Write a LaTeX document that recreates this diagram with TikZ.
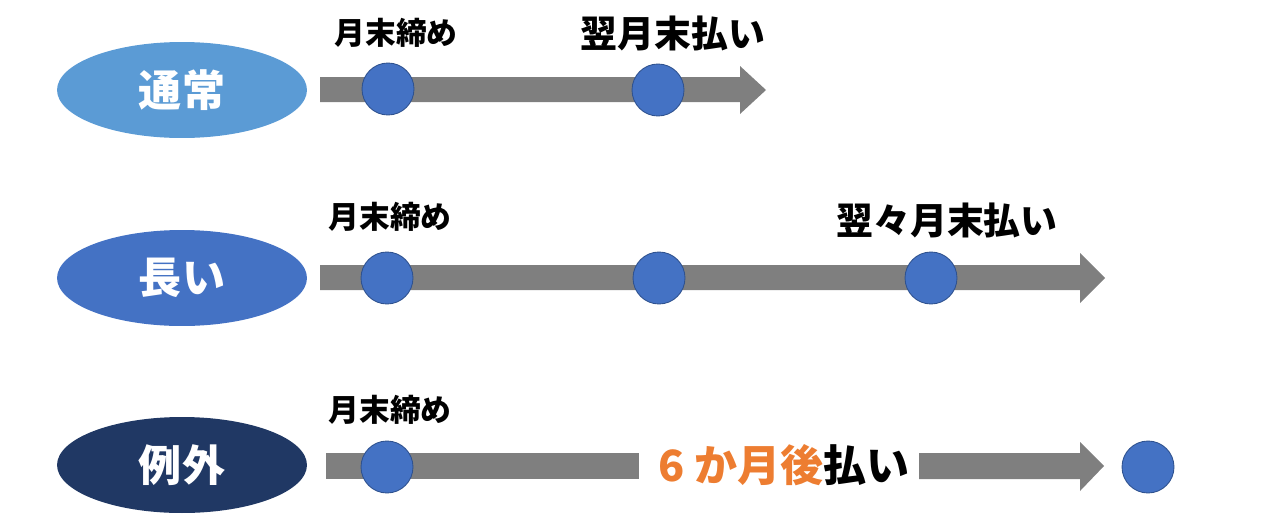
\documentclass[tikz,border=0pt]{standalone}
\usepackage{fontspec}
\setmainfont{Noto Sans CJK JP}
\usetikzlibrary{shapes.geometric}
\definecolor{kindA}{HTML}{5B9BD5}
\definecolor{kindB}{HTML}{4472C4}
\definecolor{kindC}{HTML}{203864}
\definecolor{dotline}{HTML}{2F528F}
\definecolor{barcol}{HTML}{7F7F7F}
\definecolor{accent}{HTML}{ED7D31}

\begin{document}
\begin{tikzpicture}[x=0.02cm,y=-0.02cm,
    kind/.style={ellipse, minimum width=5cm, minimum height=1.92cm, inner sep=0pt,
      text=white, font=\fontsize{24.5}{24.5}\selectfont\bfseries},
    dot/.style={circle, fill=kindB, draw=dotline, line width=0.5pt, minimum size=1.04cm, inner sep=0pt},
    small/.style={font=\fontsize{17.5}{17.5}\selectfont\bfseries},
    big/.style={font=\fontsize{21}{21}\selectfont\bfseries}]
        \useasboundingbox (0,0) rectangle (1267,521);

        % row 1
        \node[kind, fill=kindA] (normal) at (182,90) {通常};
        \fill[barcol] (320,77) -- (740,77) -- (740,66) -- (766,90) -- (740,114) -- (740,102) -- (320,102) -- cycle;
        \node[dot] (na) at (388,89) {};
        \node[dot] (nb) at (658,90) {};
        \node[small] (nalabel) at (396,33) {月末締め};
        \node[big] (nblabel) at (673,33) {翌月末払い};

        % row 2
        \node[kind, fill=kindB] (long) at (182,278) {長い};
        \fill[barcol] (320,265) -- (1080,265) -- (1080,253) -- (1105,278) -- (1080,303) -- (1080,290) -- (320,290) -- cycle;
        \node[dot] (la) at (387,278) {};
        \node[dot] (lb) at (659,278) {};
        \node[dot] (lc) at (931,278) {};
        \node[small] (lalabel) at (390,217) {月末締め};
        \node[big] (lclabel) at (947,220) {翌々月末払い};

        % row 3
        \node[kind, fill=kindC] (except) at (182,465) {例外};
        \fill[barcol] (326,453) rectangle (639,479);
        \fill[barcol] (919,453) -- (1080,453) -- (1080,442) -- (1104,466) -- (1080,491) -- (1080,479) -- (919,479) -- cycle;
        \node[dot] (ea) at (387,467) {};
        \node[dot] (eb) at (1148,467) {};
        \node[small] (ealabel) at (390,410) {月末締め};
        \node[font=\fontsize{24.5}{24.5}\selectfont\bfseries] (ebtext) at (784,465) {\textcolor{accent}{6 か月後}払い};
    \end{tikzpicture}
\end{document}
